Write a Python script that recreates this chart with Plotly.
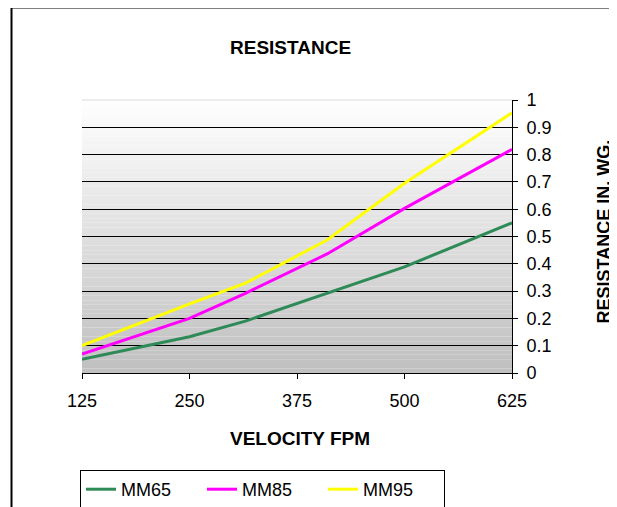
import plotly.graph_objects as go

# ---- data ----
velocity = [125, 250, 315, 410, 500, 625]
mm65 = [0.050, 0.133, 0.190, 0.292, 0.389, 0.550]
mm85 = [0.069, 0.200, 0.292, 0.436, 0.603, 0.819]
mm95 = [0.100, 0.253, 0.329, 0.487, 0.695, 0.953]
series_names = ["MM65", "MM85", "MM95"]
series_colors = ["#2E8B57", "#FF00FF", "#FFFF00"]
x_ticks = [125, 250, 375, 500, 625]
y_ticks = [0, 0.1, 0.2, 0.3, 0.4, 0.5, 0.6, 0.7, 0.8, 0.9, 1]
y_tick_text = ["0", "0.1", "0.2", "0.3", "0.4", "0.5", "0.6", "0.7", "0.8", "0.9", "1"]

OFF = 8                      # page body offset of the figure
W, H = 617 - OFF, 507 - OFF  # figure size
# plot-area box in page pixels
PL, PR, PT, PB = 82, 512, 100, 373
L, R, T, B = PL - OFF, PR - OFF, PT - OFF, PB - OFF
pw, ph = R - L, B - T

def px_x(p):  # page pixel -> paper x
    return (p - OFF - L) / pw

def px_y(p):  # page pixel -> paper y
    return (B - (p - OFF)) / ph

FONT = "Liberation Sans, Arial, sans-serif"

fig = go.Figure()
for name, vals, col in zip(series_names, [mm65, mm85, mm95], series_colors):
    fig.add_trace(go.Scatter(x=velocity, y=vals, mode="lines", name=name,
                             line=dict(color=col, width=3)))

shapes = []
# gradient plot-area background (white at top, grey at bottom)
N = 60
for i in range(N):
    f = (i + 0.5) / N  # 0 bottom -> 1 top
    g = int(round(191 + (255 - 191) * f))
    shapes.append(dict(type="rect", xref="paper", yref="paper",
                       x0=0, x1=1, y0=i / N, y1=(i + 1) / N,
                       fillcolor=f"rgb({g},{g},{g})", line=dict(width=0),
                       layer="below"))
# light top edge of plot area
shapes.append(dict(type="line", xref="paper", yref="paper", x0=0, x1=1, y0=1, y1=1,
                   line=dict(color="#e6e6e6", width=1.5), layer="above"))
# outer chart frame
shapes.append(dict(type="rect", xref="paper", yref="paper",
                   x0=px_x(11.5), x1=px_x(660), y0=px_y(560), y1=px_y(7.5),
                   line=dict(color="black", width=2), fillcolor="rgba(0,0,0,0)",
                   layer="above"))

annotations = [
    dict(text="<b>RESISTANCE</b>", xref="paper", yref="paper",
         x=px_x(290), y=px_y(47), xanchor="center", yanchor="middle", showarrow=False,
         font=dict(family=FONT, size=19, color="black")),
    dict(text="<b>VELOCITY FPM</b>", xref="paper", yref="paper",
         x=px_x(300), y=px_y(438), xanchor="center", yanchor="middle", showarrow=False,
         font=dict(family=FONT, size=19, color="black")),
    dict(text="<b>RESISTANCE IN. WG.</b>", xref="paper", yref="paper",
         x=px_x(603), y=px_y(231.5), xanchor="center", yanchor="middle",
         showarrow=False, textangle=-90,
         font=dict(family=FONT, size=18, color="black")),
]

fig.update_layout(
    width=W, height=H,
    margin=dict(l=L, r=W - R, t=T, b=H - B, pad=0, autoexpand=False),
    paper_bgcolor="white", plot_bgcolor="white",
    font=dict(family=FONT, size=18, color="black"),
    shapes=shapes, annotations=annotations,
    showlegend=True,
    legend=dict(orientation="h", x=px_x(80), xanchor="left",
                y=px_y(470), yanchor="top",
                bordercolor="black", borderwidth=1, bgcolor="white",
                entrywidth=76, entrywidthmode="pixels",
                font=dict(family=FONT, size=18, color="black"),
                tracegroupgap=0),
    xaxis=dict(range=[125, 625], tickvals=x_ticks, ticktext=[str(v) for v in x_ticks],
               showgrid=False, zeroline=False, showline=True, linecolor="black",
               linewidth=1, ticks="outside", ticklen=5, tickcolor="black",
               ticklabelstandoff=6, tickfont=dict(family=FONT, size=18)),
    yaxis=dict(range=[0, 1], side="right", tickvals=y_ticks, ticktext=y_tick_text,
               showgrid=True, gridcolor="black", gridwidth=1, zeroline=False,
               showline=True, linecolor="black", linewidth=1,
               ticks="outside", ticklen=5, tickcolor="black",
               ticklabelstandoff=5, tickfont=dict(family=FONT, size=18)),
)

fig.write_html("out.html")
